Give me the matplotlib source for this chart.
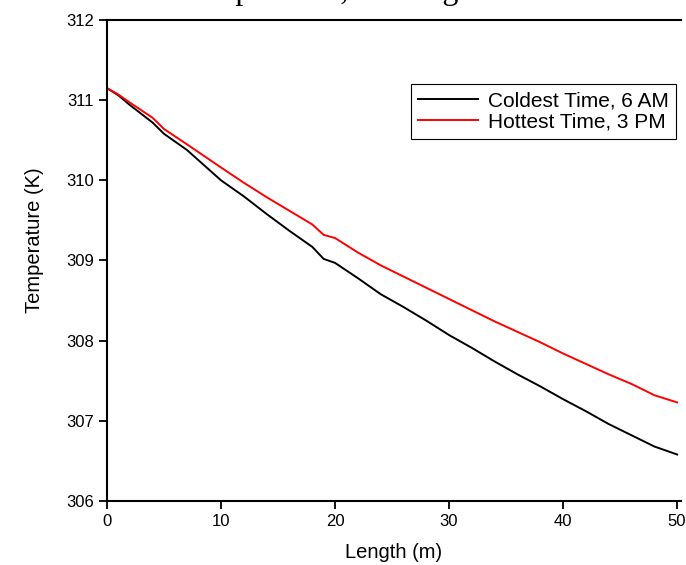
import matplotlib
matplotlib.use("Agg")
import matplotlib.pyplot as plt

# Temperature along the length, coldest vs hottest time of day
length_m = [0, 1, 2, 4, 5, 7, 10, 12, 14, 16, 18, 19, 20, 22, 24, 26, 28, 30,
            32, 34, 36, 38, 40, 42, 44, 46, 48, 50]
cold_6am = [311.15, 311.06, 310.94, 310.72, 310.58, 310.38, 310.00, 309.80,
            309.58, 309.37, 309.17, 309.02, 308.97, 308.78, 308.58, 308.42,
            308.25, 308.07, 307.91, 307.74, 307.58, 307.43, 307.27, 307.12,
            306.96, 306.82, 306.68, 306.58]
hot_3pm = [311.15, 311.07, 310.97, 310.78, 310.64, 310.45, 310.16, 309.97,
           309.79, 309.62, 309.45, 309.32, 309.28, 309.10, 308.94, 308.80,
           308.66, 308.52, 308.38, 308.24, 308.11, 307.98, 307.84, 307.71,
           307.58, 307.46, 307.32, 307.23]
series_labels = ["Coldest Time, 6 AM", "Hottest Time, 3 PM"]
x_ticks = [0, 10, 20, 30, 40, 50]
y_ticks = [306, 307, 308, 309, 310, 311, 312]

plt.rcParams['font.family'] = ['Liberation Sans', 'DejaVu Sans']

fig = plt.figure(figsize=(6.86, 5.65), dpi=100)
ax = fig.add_axes([0.156, 0.1133, 0.836, 0.8513])

ax.plot(length_m, cold_6am, color="black", lw=1.4, label=series_labels[0])
ax.plot(length_m, hot_3pm, color="red", lw=1.4, label=series_labels[1])

ax.set_xlim(0, 50.3)
ax.set_ylim(306, 312)
ax.set_xticks(x_ticks)
ax.set_yticks(y_ticks)
ax.tick_params(direction="out", length=6, width=1.3, labelsize=12)

for s in ["left", "bottom", "top"]:
    ax.spines[s].set_linewidth(1.5)
ax.spines["right"].set_visible(False)

ax.set_xlabel("Length (m)", fontsize=14.5, labelpad=10)
ax.set_ylabel("Temperature (K)", fontsize=14.5)
ax.yaxis.set_label_coords(-0.11, 0.543)

leg = ax.legend(loc="upper right", bbox_to_anchor=(676 / 686, 1 - 84 / 565),
                bbox_transform=fig.transFigure, fontsize=15, fancybox=False,
                edgecolor="black", framealpha=1, handlelength=2.9,
                handletextpad=0.45, borderpad=0.35, labelspacing=0.1,
                borderaxespad=0)
leg.get_frame().set_linewidth(0.8)

# title sits above the visible area, only descenders show
fig.text(179 / 686, 1 + 1 / 565, "Temperature, vs Length", ha="left",
         va="baseline", fontsize=23, family="Liberation Serif")

fig.savefig("out.png", dpi=100)
